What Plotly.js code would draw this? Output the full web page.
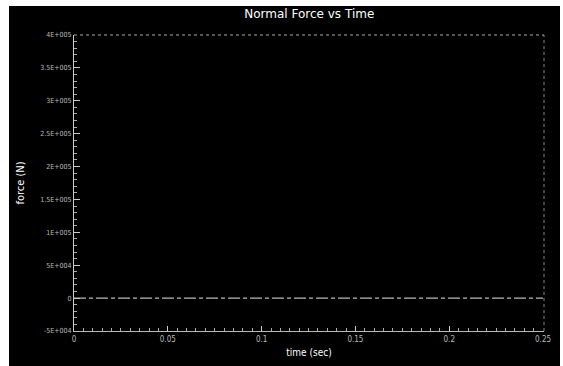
<!DOCTYPE html>
<html>
<head>
<meta charset="utf-8">
<script src="https://cdn.plot.ly/plotly-3.0.1.min.js"></script>
<style>
  html, body { margin: 0; padding: 0; background: #ffffff; width: 563px; height: 366px; overflow: hidden; }
  #chart { position: absolute; left: 9px; top: 6px; width: 551px; height: 360px; }
</style>
</head>
<body>
<div id="chart"></div>
<script>
// Data
const timeSec = [0, 0.05, 0.1, 0.15, 0.2, 0.25];
const forceN = [0, 0, 0, 0, 0, 0];

// Tick labels
const yTickVals = [-50000, 0, 50000, 100000, 150000, 200000, 250000, 300000, 350000, 400000];
const yTickText = ['-5E+004', '0', '5E+004', '1E+005', '1.5E+005', '2E+005', '2.5E+005', '3E+005', '3.5E+005', '4E+005'];
const xTickVals = [0, 0.05, 0.1, 0.15, 0.2, 0.25];
const xTickText = ['0', '0.05', '0.1', '0.15', '0.2', '0.25'];

const trace = {
  x: timeSec,
  y: forceN,
  type: 'scatter',
  mode: 'lines',
  line: { color: '#b8b8b8', width: 1.2, dash: '12px,3px,4px,3px' },
  hoverinfo: 'skip'
};

const layout = {
  width: 551,
  height: 360,
  paper_bgcolor: '#000000',
  plot_bgcolor: '#000000',
  margin: { l: 65, r: 16, t: 29, b: 35 },
  showlegend: false,
  font: { family: 'DejaVu Sans Condensed, DejaVu Sans, sans-serif', color: '#d8d8d8', size: 8 },
  title: {
    text: 'Normal Force vs Time',
    font: { family: 'DejaVu Sans, sans-serif', size: 12, color: '#ffffff' },
    x: 0.545, xanchor: 'center', y: 0.99, yanchor: 'top'
  },
  xaxis: {
    range: [0, 0.2505],
    tickvals: xTickVals,
    ticktext: xTickText,
    ticks: 'inside',
    ticklen: 5,
    tickcolor: '#cccccc',
    showgrid: false,
    zeroline: false,
    showline: true,
    linecolor: '#bbbbbb',
    linewidth: 1,
    tickfont: { size: 8, color: '#bbbbbb' },
    minor: { dtick: 0.005, ticks: 'inside', ticklen: 3, tickcolor: '#aaaaaa', showgrid: false },
    title: { text: 'time (sec)', font: { size: 10, color: '#ffffff' }, standoff: 6 }
  },
  yaxis: {
    range: [-50000, 400000],
    tickvals: yTickVals,
    ticktext: yTickText,
    ticks: 'inside',
    ticklen: 6,
    tickcolor: '#cccccc',
    showgrid: false,
    zeroline: false,
    showline: true,
    linecolor: '#cccccc',
    linewidth: 1,
    tickfont: { size: 7, color: '#bbbbbb' },
    minor: { dtick: 10000, ticks: 'inside', ticklen: 3, tickcolor: '#aaaaaa', showgrid: false },
    title: { text: 'force (N)', font: { size: 11, color: '#ffffff' }, standoff: 13 }
  },
  shapes: [
    { type: 'line', xref: 'paper', yref: 'paper', x0: 0, x1: 1, y0: 1, y1: 1,
      line: { color: '#aaaaaa', width: 1, dash: 'dot' } },
    { type: 'line', xref: 'paper', yref: 'paper', x0: 1, x1: 1, y0: 0, y1: 1,
      line: { color: '#888888', width: 1, dash: 'dot' } }
  ]
};

Plotly.newPlot('chart', [trace], layout, { staticPlot: true, displayModeBar: false });
</script>
</body>
</html>
